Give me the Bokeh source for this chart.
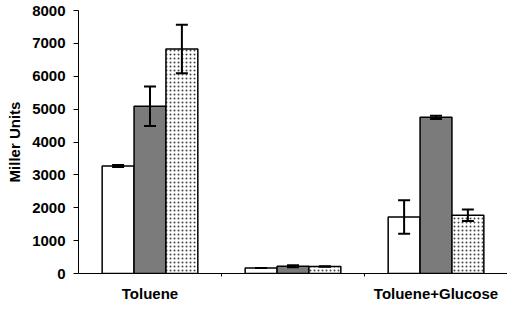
import numpy as np
from bokeh.plotting import figure
from bokeh.models import ColumnDataSource, FixedTicker, Whisker, TeeHead, Range1d
from bokeh.embed import file_html
from bokeh.resources import INLINE

groups = ["Toluene", "", "Toluene+Glucose"]
white_vals = [3270, 170, 1720]
white_err = [30, 0, 510]
grey_vals = [5090, 220, 4750]
grey_err = [600, 30, 50]
dotted_vals = [6830, 210, 1770]
dotted_err = [735, 0, 175]
y_ticks = [0, 1000, 2000, 3000, 4000, 5000, 6000, 7000, 8000]

FONT = "Liberation Sans"
bar_w = 0.223
centers = np.arange(len(groups)) + 0.5

p = figure(width=507, height=304, output_backend="svg", toolbar_location=None,
           x_range=Range1d(0, len(groups)), y_range=Range1d(0, 8000),
           min_border_left=78, min_border_right=0, min_border_top=10, min_border_bottom=25)
p.outline_line_color = None
p.xgrid.visible = False
p.ygrid.visible = False

series = [
    (white_vals, white_err, -bar_w, dict(fill_color="white")),
    (grey_vals, grey_err, 0.0, dict(fill_color="#7b7b7b")),
    (dotted_vals, dotted_err, bar_w, dict(fill_color="white", hatch_pattern="dot",
                                          hatch_color="#444444", hatch_scale=4, hatch_weight=1.5)),
]
for vals, errs, off, style in series:
    v = np.array(vals, dtype=float)
    e = np.array(errs, dtype=float)
    src = ColumnDataSource(dict(x=centers + off, top=v, upper=v + e, lower=v - e))
    p.vbar(x="x", top="top", bottom=0, width=bar_w, source=src,
           line_color="black", line_width=1.5, **style)
    w = Whisker(base="x", upper="upper", lower="lower", source=src, level="overlay",
                line_color="black", line_width=2,
                upper_head=TeeHead(size=12, line_width=2, line_color="black"),
                lower_head=TeeHead(size=12, line_width=2, line_color="black"))
    p.add_layout(w)

# x axis
p.xaxis.ticker = FixedTicker(ticks=list(centers), minor_ticks=list(np.arange(1, len(groups))))
p.xaxis.major_label_overrides = {float(c): g for c, g in zip(centers, groups)}
p.xaxis.major_tick_out = 0
p.xaxis.major_tick_in = 0
p.xaxis.minor_tick_out = 3
p.xaxis.minor_tick_in = 0
p.xaxis.axis_line_color = "black"
p.xaxis.axis_line_width = 1
p.xaxis.major_label_text_font = FONT
p.xaxis.major_label_text_font_style = "bold"
p.xaxis.major_label_text_font_size = "15px"
p.xaxis.major_label_text_color = "black"
p.xaxis.major_label_standoff = 8

# y axis
p.yaxis.ticker = FixedTicker(ticks=y_ticks, minor_ticks=[])
p.yaxis.major_tick_out = 5
p.yaxis.major_tick_in = 0
p.yaxis.axis_line_color = "black"
p.yaxis.major_label_text_font = FONT
p.yaxis.major_label_text_font_style = "bold"
p.yaxis.major_label_text_font_size = "15px"
p.yaxis.major_label_text_color = "black"
p.yaxis.major_label_standoff = 8
p.yaxis.axis_label = "Miller Units"
p.yaxis.axis_label_text_font = FONT
p.yaxis.axis_label_text_font_style = "bold"
p.yaxis.axis_label_text_font_size = "15px"
p.yaxis.axis_label_text_color = "black"
p.yaxis.axis_label_standoff = 6

open("out.html", "w").write(file_html(p, INLINE))
